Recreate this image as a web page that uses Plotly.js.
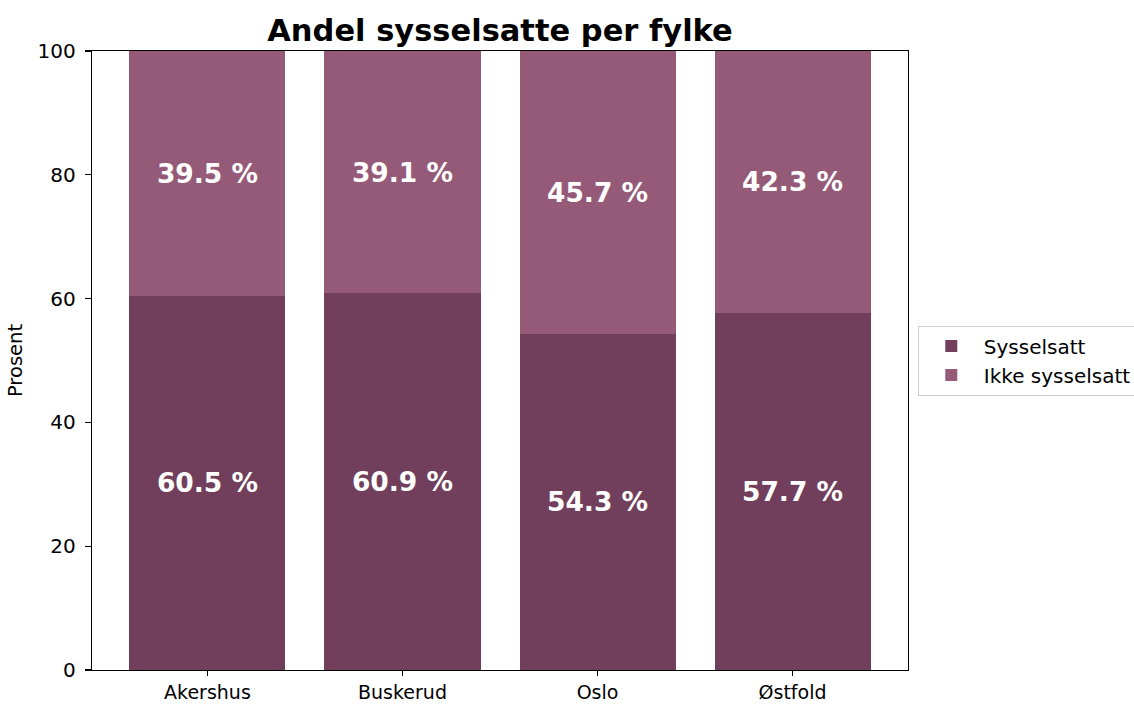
<!DOCTYPE html>
<html>
<head>
<meta charset="utf-8">
<script src="https://cdn.plot.ly/plotly-3.0.1.min.js"></script>
<style>html,body{margin:0;padding:0;background:#fff;}#chart{width:1134px;height:704px;}</style>
</head>
<body>
<div id="chart"></div>
<script>
const categories = ["Akershus", "Buskerud", "Oslo", "Østfold"];
const sysselsatt = [60.5, 60.9, 54.3, 57.7];
const ikkeSysselsatt = [39.5, 39.1, 45.7, 42.3];
const seriesNames = ["Sysselsatt", "Ikke sysselsatt"];
const yTicks = [0, 20, 40, 60, 80, 100];

const FONT = "DejaVu Sans, Verdana, sans-serif";
const labelFont = {family: FONT, size: 26.5, color: "#ffffff", weight: "bold"};

const traces = [
  {type: "bar", name: seriesNames[0], x: categories, y: sysselsatt,
   marker: {color: "#713f5c", line: {width: 0}}, width: 0.8,
   texttemplate: "%{y:.1f} %", textposition: "inside", insidetextanchor: "middle",
   textfont: labelFont, hoverinfo: "skip"},
  {type: "bar", name: seriesNames[1], x: categories, y: ikkeSysselsatt,
   marker: {color: "#965a79", line: {width: 0}}, width: 0.8,
   texttemplate: "%{y:.1f} %", textposition: "inside", insidetextanchor: "middle",
   textfont: labelFont, hoverinfo: "skip"}
];

const layout = {
  width: 1134, height: 704,
  barmode: "stack",
  paper_bgcolor: "#ffffff", plot_bgcolor: "#ffffff",
  margin: {l: 92, r: 226, t: 51, b: 34, pad: 0, autoexpand: false},
  font: {family: FONT, size: 20, color: "#000000"},
  title: {text: "Andel sysselsatte per fylke", font: {family: FONT, size: 30.5, weight: "bold", color: "#000"},
          x: 0.5, xref: "paper", xanchor: "center", y: 1 - 30/704, yref: "container", yanchor: "middle"},
  xaxis: {range: [-0.592, 3.592], showline: true, linecolor: "#000", linewidth: 1.2, mirror: true,
          ticks: "outside", ticklen: 5, tickwidth: 1.2, tickcolor: "#000", showgrid: false, zeroline: false,
          ticklabelstandoff: 0, automargin: false,
          tickfont: {family: FONT, size: 19, color: "#000"}, fixedrange: true},
  yaxis: {range: [0, 100], tickvals: yTicks, showline: true, linecolor: "#000", linewidth: 1.2, mirror: true,
          ticks: "outside", ticklen: 6, tickwidth: 1.2, tickcolor: "#000", showgrid: false, zeroline: false,
          ticklabelstandoff: 5, automargin: false,
          tickfont: {family: FONT, size: 20, color: "#000"},
          title: {text: "Prosent", font: {family: FONT, size: 19.5, color: "#000"}, standoff: 9}},
  showlegend: true,
  legend: {x: 1.012, xanchor: "left", y: 0.5, yanchor: "middle", bordercolor: "#cccccc", borderwidth: 1,
           bgcolor: "#ffffff", font: {family: FONT, size: 20, color: "#000"}, traceorder: "normal",
           itemwidth: 55, tracegroupgap: 0},
  bargap: 0.2
};

Plotly.newPlot("chart", traces, layout, {staticPlot: true, displayModeBar: false});
</script>
</body>
</html>
